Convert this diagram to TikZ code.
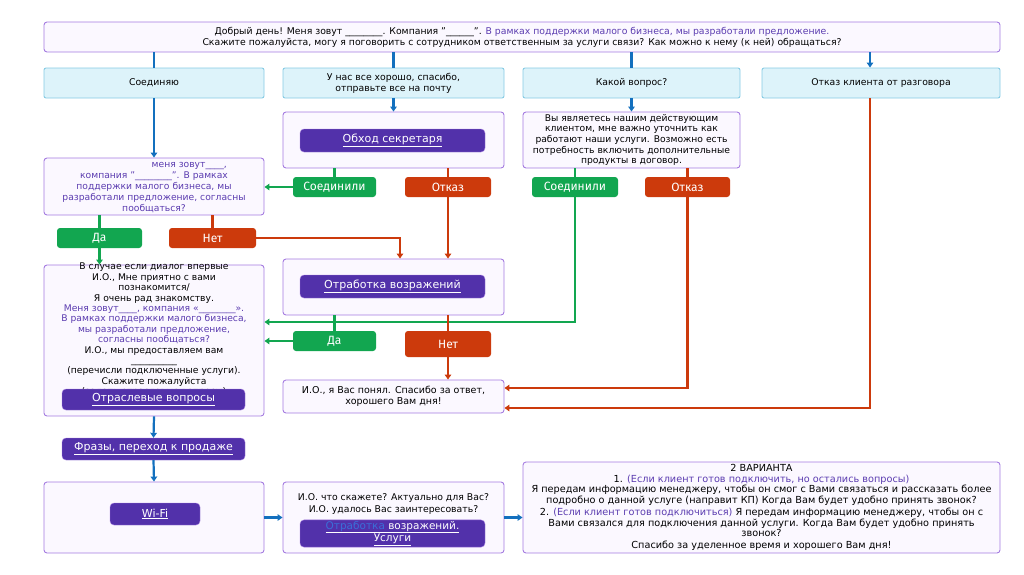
\documentclass[tikz,border=0pt]{standalone}
\usepackage{fontspec}
\setmainfont{DejaVu Sans}
\newfontfamily\btnfont{Fira Sans}
\usetikzlibrary{arrows.meta}

\definecolor{boxline}{HTML}{A47BE0}
\definecolor{boxfill}{HTML}{FBF8FF}
\definecolor{cyanfill}{HTML}{DDF3FA}
\definecolor{cyanline}{HTML}{86CBE4}
\definecolor{flowblue}{HTML}{1370BE}
\definecolor{okgreen}{HTML}{12A650}
\definecolor{nored}{HTML}{CC3A0C}
\definecolor{linkbtn}{HTML}{5231AA}
\definecolor{purptext}{HTML}{5B3CB0}
\definecolor{linkblue}{HTML}{3A6FD8}

\newcommand{\smalltxt}{\fontsize{9.3}{11}\selectfont}
\newcommand{\tighttxt}{\fontsize{9.2}{10.4}\selectfont}
\newcommand{\linktxt}{\fontsize{11}{12.5}\selectfont}
\newcommand{\blank}[1]{\foreach \i in {1,...,#1}{\_}}

\tikzset{
  card/.style={draw=boxline, fill=boxfill, rounded corners=3pt, line width=0.9pt,
    align=center, inner sep=1pt, font=\smalltxt},
  topic/.style={draw=cyanline, fill=cyanfill, rounded corners=2pt, line width=0.9pt,
    align=center, inner sep=1pt, font=\smalltxt},
  linkbox/.style={fill=linkbtn, draw=boxline, rounded corners=4pt, text=white,
    align=center, inner sep=1pt, font=\linktxt},
  yesbox/.style={fill=okgreen, rounded corners=3pt, text=white, inner sep=1pt,
    font=\btnfont\fontsize{12}{14}\selectfont},
  nobox/.style={fill=nored, rounded corners=3pt, text=white, inner sep=1pt,
    font=\btnfont\fontsize{12}{14}\selectfont},
  tip/.style={-{Triangle[width=6.5pt,length=5pt]}},
  blueflow/.style={draw=flowblue, line width=2.2pt},
  greenflow/.style={draw=okgreen, line width=2.2pt},
  redflow/.style={draw=nored, line width=2.2pt}
}

\begin{document}
\begin{tikzpicture}[x=1pt, y=-1pt]
  \useasboundingbox (0,0) rectangle (1024,574);

  % greeting
  \node[card, minimum width=956, minimum height=30] (top) at (522,37)
    {Добрый день! Меня зовут \blank{8}. Компания "\blank{6}". {\color{purptext}В рамках поддержки малого бизнеса, мы разработали предложение.}\\
     Скажите пожалуйста, могу я поговорить с сотрудником ответственным за услуги связи? Как можно к нему (к ней) обращаться?};

  % four answers
  \node[topic, minimum width=220, minimum height=30] (connect) at (154,83) {Соединяю};
  \node[topic, minimum width=221, minimum height=30] (allgood) at (393.5,83)
    {У нас все хорошо, спасибо,\\ отправьте все на почту};
  \node[topic, minimum width=217, minimum height=30] (question) at (631.5,83) {Какой вопрос?};
  \node[topic, minimum width=238, minimum height=30] (refuse) at (881,83) {Отказ клиента от разговора};
  \coordinate (refx) at (870,0);

  % left column
  \node[card, minimum width=220, minimum height=57, text=purptext, font=\fontsize{9.2}{11}\selectfont] (ask) at (154,186.5)
    {\phantom{Добрый день!\ }меня зовут\blank{4},\\
     компания "\blank{8}". В рамках\\
     поддержки малого бизнеса, мы\\
     разработали предложение, согласны\\
     пообщаться?};
  \node[yesbox, minimum width=85, minimum height=20] (yesA) at (99.5,238) {Да};
  \node[nobox, minimum width=87, minimum height=20] (noA) at (212.5,238) {Нет};

  \node[card, minimum width=220, minimum height=151] (first) at (154,340.5) {};
  \node[align=center, inner sep=0pt, anchor=north, font=\tighttxt] (firsttxt) at (154,263)
    {В случае если диалог впервые\\
     И.О., Мне приятно с вами\\
     познакомится/\\
     Я очень рад знакомству.\\
     {\color{purptext}Меня зовут\blank{4}, компания «\blank{8}».}\\
     {\color{purptext}В рамках поддержки малого бизнеса,}\\
     {\color{purptext}мы разработали предложение,}\\
     {\color{purptext}согласны пообщаться?}\\
     И.О., мы предоставляем вам\\
     \blank{10}\\
     (перечисли подключенные услуги).\\
     Скажите пожалуйста\\
     (задать отраслевые вопросы)};
  \node[linkbox, minimum width=183, minimum height=21] (branch) at (153.5,399.5) {\underline{Отраслевые вопросы}};
  \node[linkbox, minimum width=183, minimum height=22] (phrases) at (153.5,449) {\underline{Фразы, переход к продаже}};

  \node[card, minimum width=220, minimum height=71] (wifibox) at (154,517.5) {};
  \node[linkbox, minimum width=90, minimum height=22] (wifi) at (155,514) {\underline{Wi-Fi}};

  % middle column
  \node[card, minimum width=221, minimum height=56] (gatekeeper) at (393.5,140) {};
  \node[linkbox, minimum width=185, minimum height=23] (bypass) at (392.5,140.5) {\underline{Обход секретаря}};
  \node[yesbox, minimum width=83, minimum height=20] (joinedA) at (334.5,187) {Соединили};
  \node[nobox, minimum width=86, minimum height=20] (deniedA) at (448,187) {Отказ};

  \node[card, minimum width=221, minimum height=56] (objbox) at (393.5,287) {};
  \node[linkbox, minimum width=185, minimum height=23] (objections) at (392.5,286.5) {\underline{Отработка возражений}};
  \node[yesbox, minimum width=83, minimum height=20] (yesB) at (334.5,341) {Да};
  \node[nobox, minimum width=86, minimum height=26] (noB) at (448,344) {Нет};

  \node[card, minimum width=221, minimum height=33, font=\fontsize{9.5}{11}\selectfont] (thanks) at (393.5,396.5)
    {И.О., я Вас понял. Спасибо за ответ,\\ хорошего Вам дня!};

  \node[card, minimum width=221, minimum height=71] (interest) at (393.5,517.5) {};
  \node[align=center, inner sep=0pt, font=\smalltxt] (interesttxt) at (393.5,504)
    {И.О. что скажете? Актуально для Вас?\\[1.5pt] И.О. удалось Вас заинтересовать?};
  \node[linkbox, minimum width=185, minimum height=23, font=\fontsize{10.5}{11.5}\selectfont] (services) at (392.5,533.5)
    {\underline{\color{linkblue}Отработка}\underline{ возражений.}\\ \underline{Услуги}};

  % right column
  \node[card, minimum width=217, minimum height=56, font=\fontsize{9.2}{10.6}\selectfont] (client) at (631.5,140)
    {Вы являетесь нашим действующим\\
     клиентом, мне важно уточнить как\\
     работают наши услуги. Возможно есть\\
     потребность включить дополнительные\\
     продукты в договор.};
  \node[yesbox, minimum width=86, minimum height=20] (joinedB) at (575,187) {Соединили};
  \node[nobox, minimum width=85, minimum height=20] (deniedB) at (687.5,187) {Отказ};

  \node[card, minimum width=477, minimum height=91, font=\fontsize{9.7}{10.6}\selectfont] (final) at (761.5,507.5)
    {2 ВАРИАНТА\\
     1. {\color{purptext}(Если клиент готов подключить, но остались вопросы)}\\
     Я передам информацию менеджеру, чтобы он смог с Вами связаться и рассказать более\\
     подробно о данной услуге (направит КП) Когда Вам будет удобно принять звонок?\\[1.5pt]
     2. {\color{purptext}(Если клиент готов подключиться)} Я передам информацию менеджеру, чтобы он с\\
     Вами связался для подключения данной услуги. Когда Вам будет удобно принять\\
     звонок?\\[1.5pt]
     Спасибо за уделенное время и хорошего Вам дня!};

  \coordinate (greenrow) at (0,322);

  % blue flow
  \draw[blueflow] (top.south -| connect) -- (connect.north);
  \draw[blueflow] (top.south -| allgood) -- (allgood.north);
  \draw[blueflow] (top.south -| question) -- (question.north);
  \draw[blueflow, tip] (top.south -| refx) -- (refuse.north -| refx);
  \draw[blueflow, tip] (connect.south) -- (ask.north);
  \draw[blueflow, tip] (allgood.south) -- (gatekeeper.north);
  \draw[blueflow, tip] (question.south) -- (client.north);
  \draw[blueflow, tip] (first.south) -- (phrases.north);
  \draw[blueflow, tip] (phrases.south) -- (wifibox.north);
  \draw[blueflow, tip] (wifibox.east) -- (interest.west);
  \draw[blueflow, tip] (interest.east) -- (interest.east -| final.west);

  % green flow
  \draw[greenflow] (gatekeeper.south -| joinedA) -- (joinedA.north);
  \draw[greenflow, tip] (joinedA.west) -- (joinedA.west -| ask.east);
  \draw[greenflow] (ask.south -| yesA) -- (yesA.north);
  \draw[greenflow, tip] (yesA.south) -- (yesA.south |- first.north);
  \draw[greenflow] (client.south -| joinedB) -- (joinedB.north);
  \draw[greenflow, tip] (joinedB.south) |- (greenrow -| first.east);
  \draw[greenflow] (objbox.south -| yesB) -- (yesB.north);
  \draw[greenflow, tip] (yesB.west) -- (yesB.west -| first.east);

  % red flow
  \draw[redflow] (gatekeeper.south -| deniedA) -- (deniedA.north);
  \draw[redflow, tip] (deniedA.south) -- (deniedA.south |- objbox.north);
  \draw[redflow] (ask.south -| noA) -- (noA.north);
  \draw[redflow, tip] (noA.east) -| ([xshift=6.5pt]objbox.north);
  \draw[redflow] (objbox.south -| noB) -- (noB.north);
  \draw[redflow, tip] (noB.south) -- (noB.south |- thanks.north);
  \draw[redflow] (client.south -| deniedB) -- (deniedB.north);
  \draw[redflow, tip] (deniedB.south) |- ([yshift=8.5pt]thanks.east);
  \draw[redflow, tip] (refuse.south -| refx) |- ([yshift=-11.5pt]thanks.east);
\end{tikzpicture}
\end{document}
